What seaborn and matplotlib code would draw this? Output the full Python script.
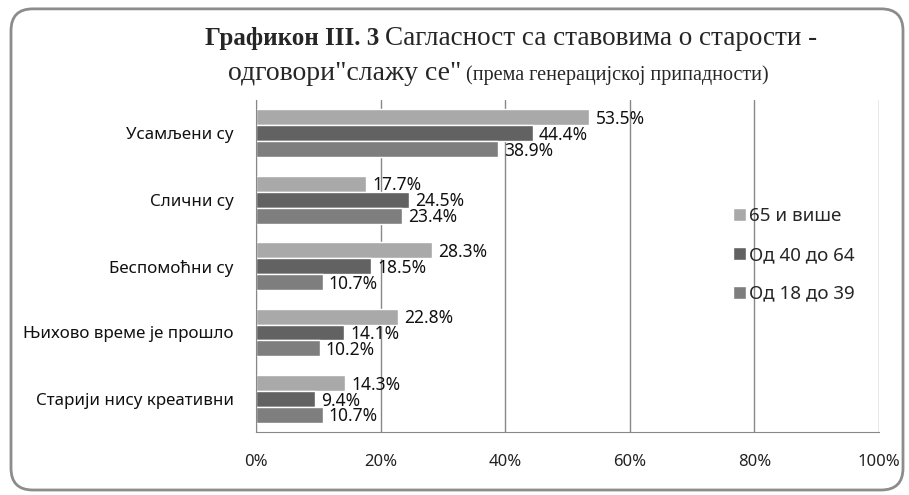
import matplotlib
matplotlib.use('Agg')
import matplotlib.pyplot as plt
import seaborn as sns
import pandas as pd
from matplotlib.patches import FancyBboxPatch

categories = ['Усамљени су', 'Слични су', 'Беспомоћни су',
              'Њихово време је прошло', 'Старији нису креативни']
groups = ['65 и више', 'Од 40 до 64', 'Од 18 до 39']
vals_65 = [53.5, 17.7, 28.3, 22.8, 14.3]
vals_40 = [44.4, 24.5, 18.5, 14.1, 9.4]
vals_18 = [38.9, 23.4, 10.7, 10.2, 10.7]
colors = ['#a9a9a9', '#626262', '#7e7e7e']

df = pd.DataFrame({
    'cat': categories * 3,
    'grp': [groups[0]] * 5 + [groups[1]] * 5 + [groups[2]] * 5,
    'val': vals_65 + vals_40 + vals_18,
})

sns.set_style('white')
plt.rcParams['font.family'] = ['Noto Sans', 'DejaVu Sans']

fig = plt.figure(figsize=(9.09, 4.95), dpi=100)
ax = fig.add_axes([0.2816, 0.127, 0.6855, 0.671])

sns.barplot(data=df, x='val', y='cat', hue='grp', hue_order=groups,
            order=categories, palette=colors, orient='h', width=0.72,
            saturation=1, ax=ax, legend=True)

ax.set_xlim(0, 100)
ax.set_ylim(4.5, -0.5)
ax.set_xticks([0, 20, 40, 60, 80, 100])
ax.set_xticklabels([f'{t}%' for t in [0, 20, 40, 60, 80, 100]],
                   fontsize=12, color='#222222')
ax.set_xlabel('')
ax.set_ylabel('')
ax.tick_params(axis='y', length=0, pad=16, labelsize=12.2, labelcolor='#111111')
ax.set_yticks([-0.5 + i for i in range(6)], minor=True)
ax.tick_params(axis='y', which='minor', length=5, color='#888888', width=1)
ax.tick_params(axis='x', length=5, color='#888888', pad=13, direction='inout')
ax.xaxis.grid(True, color='#888888', linewidth=1)
ax.set_axisbelow(True)
for s in ['top', 'right']:
    ax.spines[s].set_visible(False)
for s in ['left', 'bottom']:
    ax.spines[s].set_color('#888888')

# data labels
for cont, vals in zip(ax.containers, [vals_65, vals_40, vals_18]):
    for bar, v in zip(cont, vals):
        y = bar.get_y() + bar.get_height() * 0.6
        ax.text(v + 1.0, y, f'{v}%', va='center', ha='left', fontsize=12.5,
                color='#111111')

ax.legend(loc='center left', bbox_to_anchor=(0.766, 0.533), frameon=False,
          fontsize=13.5, handlelength=0.7, handleheight=0.7,
          handletextpad=0.15, labelspacing=1.1, borderpad=0,
          borderaxespad=0)

# title, mixed bold / regular serif
serif = ['Liberation Serif', 'DejaVu Serif']
fig.canvas.draw()
r = fig.canvas.get_renderer()
t1 = fig.text(205 / 909, 0.909, 'Графикон III. 3', fontsize=18,
              fontweight='bold', family=serif, va='baseline')
bb = t1.get_window_extent(r)
fig.text(bb.x1 / fig.bbox.width + 0.006, 0.909,
         'Сагласност са ставовима о старости -', fontsize=19.5, family=serif,
         va='baseline')
t3 = fig.text(228 / 909, 0.838, 'одговори"слажу се"', fontsize=20,
              family=serif, va='baseline')
bb3 = t3.get_window_extent(r)
fig.text(bb3.x1 / fig.bbox.width + 0.005, 0.838,
         '(према генерацијској припадности)', fontsize=14.5, family=serif,
         va='baseline')

# rounded outer frame
frame = FancyBboxPatch((11 / 909, 0.0101), 892 / 909, 0.972,
                       boxstyle='round,pad=0,rounding_size=0.024',
                       transform=fig.transFigure, fill=False,
                       edgecolor='#8c8c8c', linewidth=2,
                       mutation_aspect=909 / 495)
fig.patches.append(frame)

fig.savefig('out.png', dpi=100)
